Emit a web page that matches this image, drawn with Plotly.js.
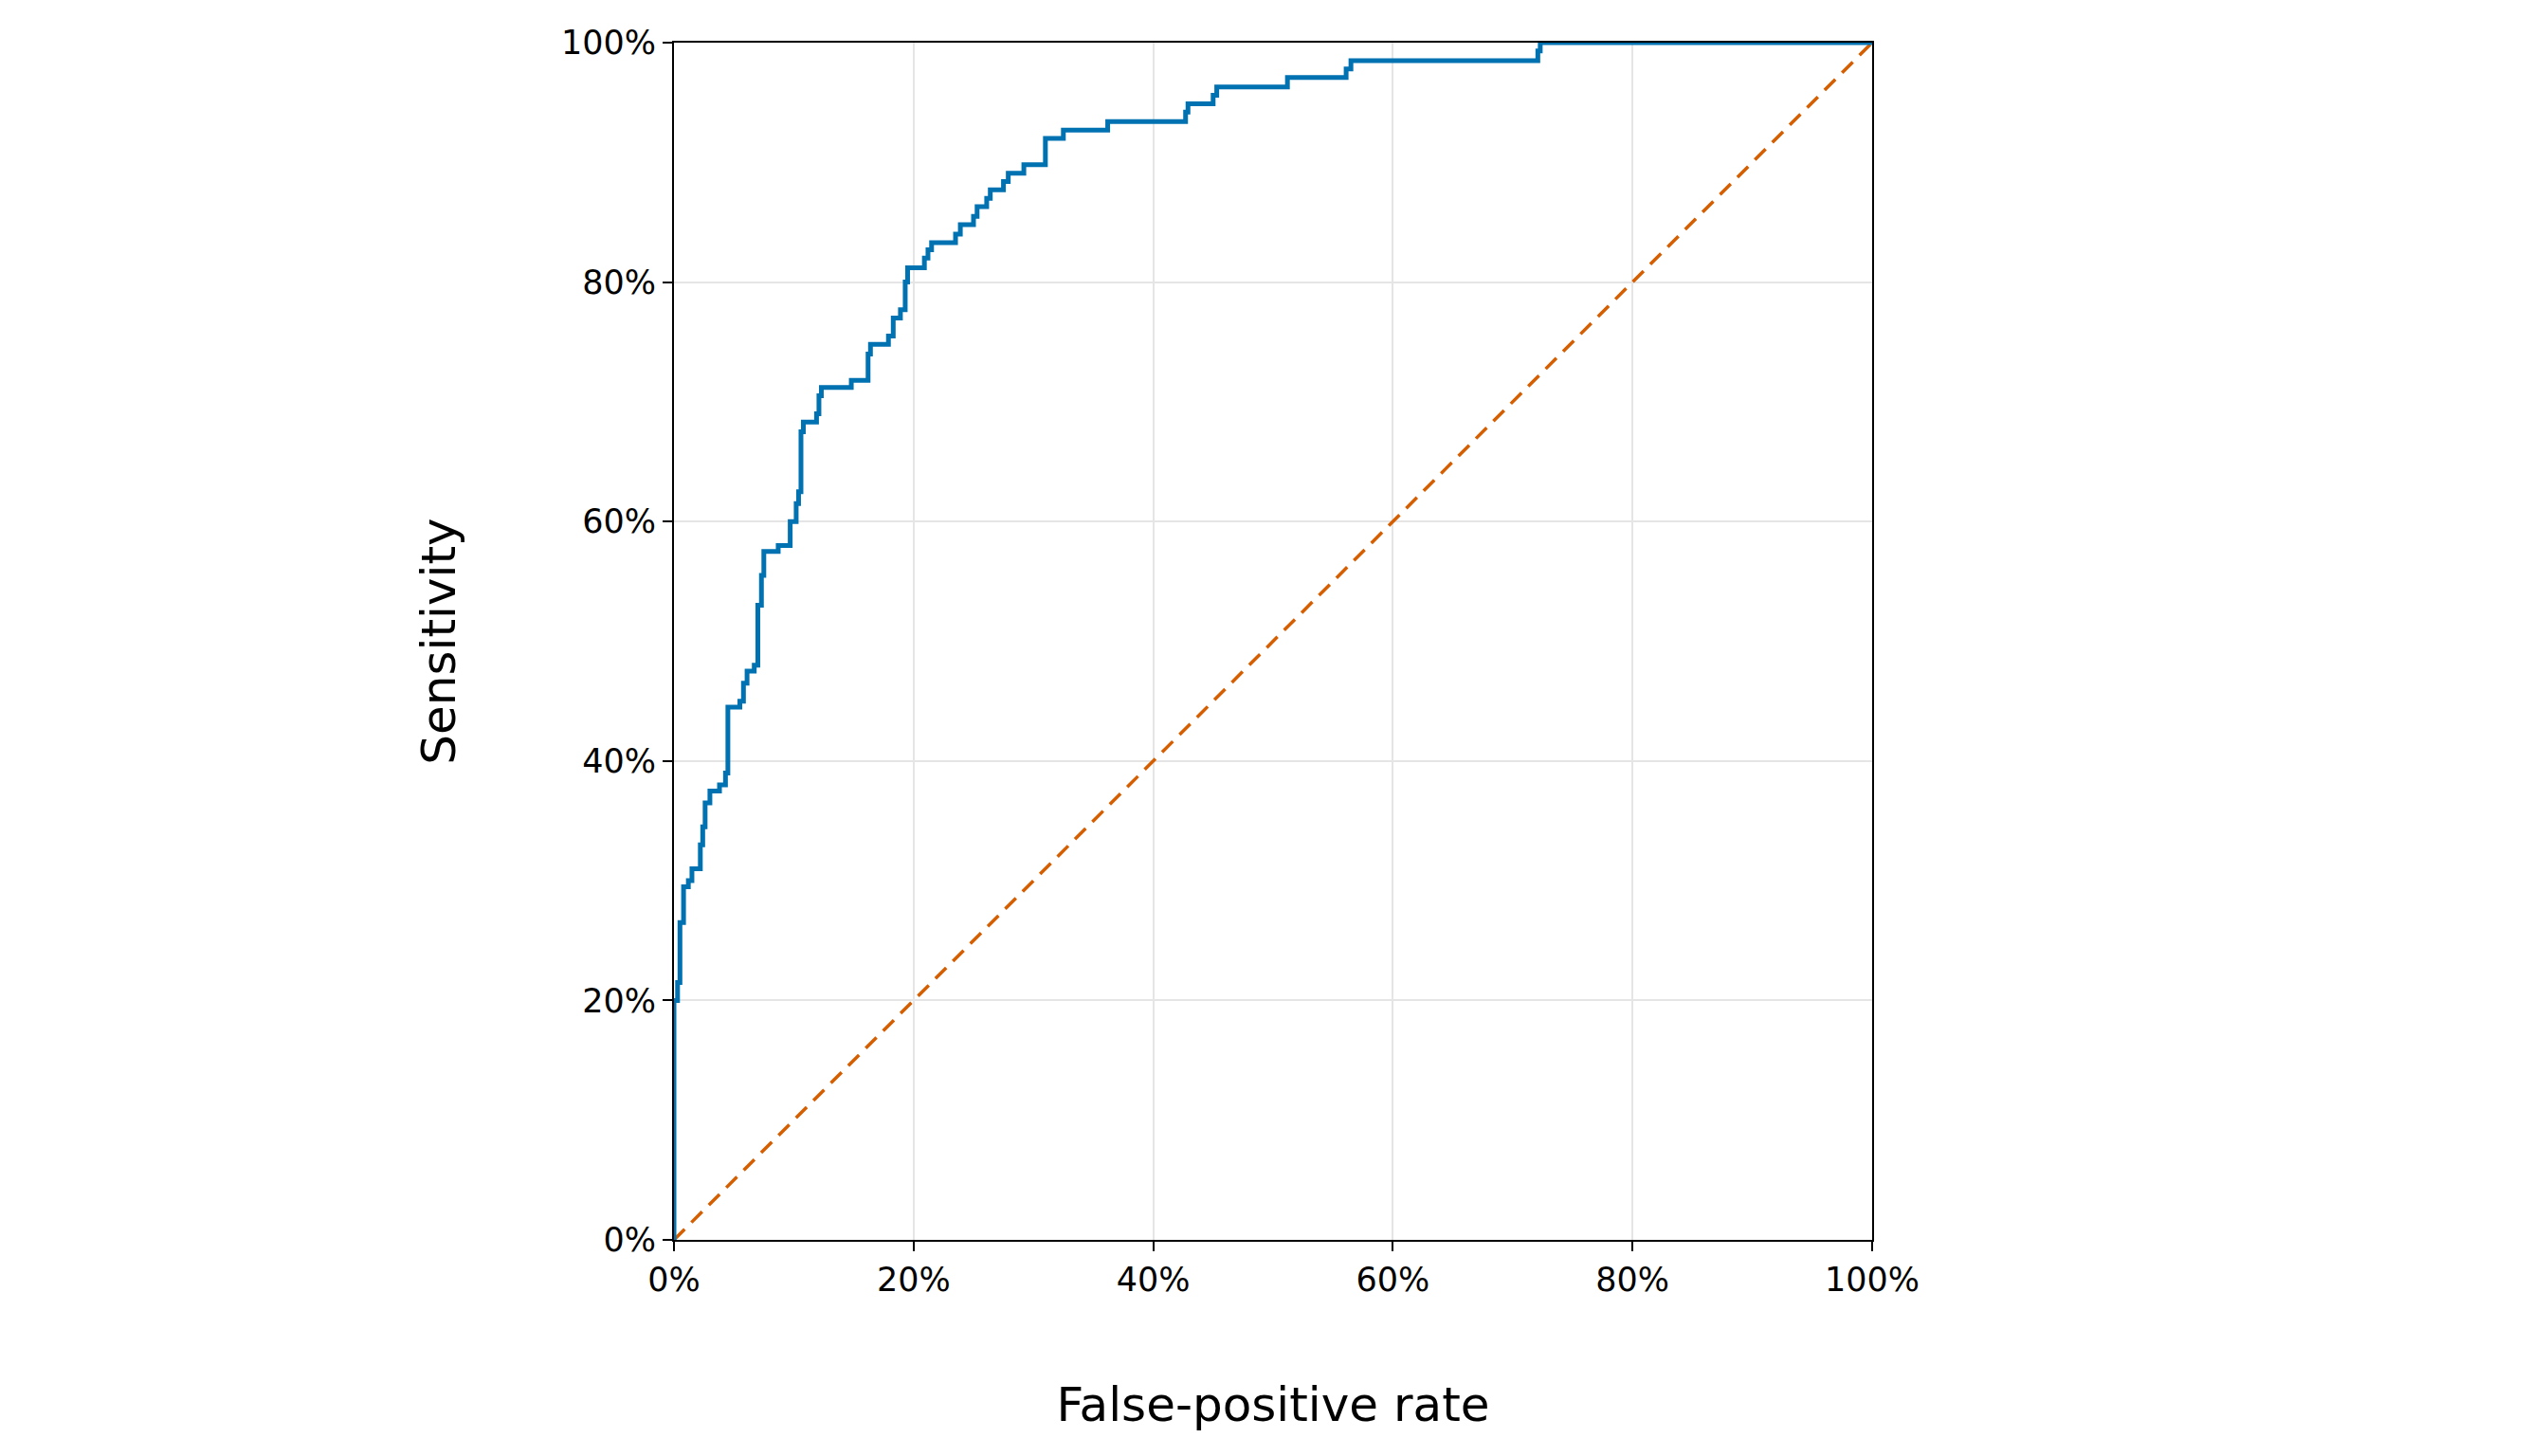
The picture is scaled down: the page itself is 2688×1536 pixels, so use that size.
<!DOCTYPE html>
<html>
<head>
<meta charset="utf-8">
<script src="https://cdn.plot.ly/plotly-3.0.1.min.js"></script>
<style>html,body{margin:0;padding:0;background:#fff}#plot{width:2688px;height:1536px}</style>
</head>
<body>
<div id="plot"></div>
<script>
// ROC curve points
const fpr = [0, 0, 0.003, 0.005, 0.008, 0.012, 0.015, 0.022, 0.024, 0.026, 0.030, 0.038, 0.043, 0.045,
  0.055, 0.058, 0.061, 0.067, 0.070, 0.070, 0.073, 0.075, 0.087, 0.097, 0.102, 0.104, 0.106, 0.108,
  0.119, 0.121, 0.123, 0.148, 0.162, 0.164, 0.179, 0.183, 0.189, 0.193, 0.195, 0.209, 0.212, 0.215,
  0.235, 0.239, 0.250, 0.253, 0.261, 0.264, 0.275, 0.279, 0.292, 0.310, 0.325, 0.362, 0.427, 0.429,
  0.450, 0.453, 0.512, 0.561, 0.565, 0.721, 0.723, 1.0];
const tpr = [0, 0.20, 0.215, 0.265, 0.295, 0.30, 0.31, 0.33, 0.345, 0.365, 0.375, 0.38, 0.39, 0.445,
  0.45, 0.465, 0.475, 0.48, 0.49, 0.53, 0.555, 0.575, 0.58, 0.60, 0.615, 0.625, 0.675, 0.683,
  0.69, 0.705, 0.712, 0.718, 0.74, 0.748, 0.755, 0.77, 0.777, 0.80, 0.812, 0.82, 0.827, 0.833,
  0.84, 0.848, 0.855, 0.863, 0.87, 0.877, 0.884, 0.891, 0.898, 0.92, 0.927, 0.934, 0.942, 0.949,
  0.956, 0.963, 0.971, 0.978, 0.985, 0.993, 1.0, 1.0];
const chance = [0, 1];
const tickVals = [0, 0.2, 0.4, 0.6, 0.8, 1.0];

const roc = {
  x : fpr, y : tpr, mode : 'lines', type : 'scatter',
  line : {color : '#0072b2', width : 5, shape : 'hv'}, name : 'ROC'
};
const diag = {
  x : chance, y : chance, mode : 'lines', type : 'scatter',
  line : {color : '#d55e00', width : 3.5, dash : '16px,10px'}, name : 'Chance'
};

const axisCommon = {
  range : [0, 1], tickvals : tickVals, tickformat : '.0%',
  showline : true, linecolor : '#000', linewidth : 2, mirror : true,
  ticks : 'outside', ticklen : 10, tickwidth : 2, tickcolor : '#000',
  gridcolor : '#e5e5e5', gridwidth : 2, zeroline : false,
  tickfont : {size : 35, color : '#000'}
};

const layout = {
  width : 2688, height : 1536,
  margin : {l : 711, r : 713, t : 45, b : 228},
  showlegend : false,
  paper_bgcolor : '#fff', plot_bgcolor : '#fff',
  font : {family : 'DejaVu Sans', color : '#000'},
  xaxis : Object.assign({}, axisCommon, {
    title : {text : 'False-positive rate', font : {size : 50}, standoff : 95}
  }),
  yaxis : Object.assign({}, axisCommon, {
    title : {text : 'Sensitivity', font : {size : 50}, standoff : 95}
  })
};

Plotly.newPlot('plot', [diag, roc], layout, {displayModeBar : false});
</script>
</body>
</html>
